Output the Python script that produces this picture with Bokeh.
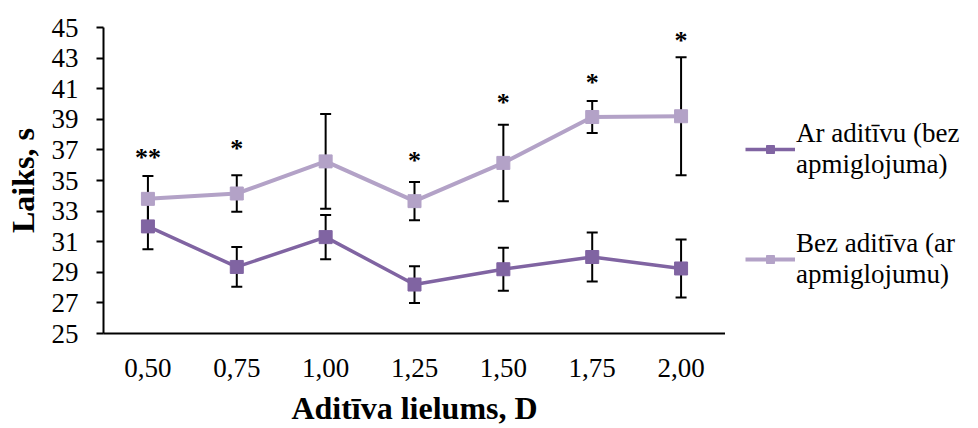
from bokeh.plotting import figure
from bokeh.layouts import row
from bokeh.models import (ColumnDataSource, Whisker, TeeHead, Legend, LegendItem,
                          FactorRange, Range1d, FixedTicker)
from bokeh.core.properties import value
from bokeh.embed import file_html
from bokeh.resources import INLINE

categories = ["0,50", "0,75", "1,00", "1,25", "1,50", "1,75", "2,00"]
ar_mean = [32.0, 29.35, 31.3, 28.2, 29.2, 30.0, 29.25]
ar_err = [1.5, 1.3, 1.45, 1.2, 1.4, 1.6, 1.9]
bez_mean = [33.8, 34.15, 36.25, 33.65, 36.15, 39.15, 39.2]
bez_err = [1.5, 1.2, 3.1, 1.25, 2.5, 1.05, 3.85]
stars = ["**", "*", "", "*", "*", "*", "*"]
star_y = [36.75, 37.35, float("nan"), 36.55, 40.35, 41.65, 44.4]
y_ticks = [25, 27, 29, 31, 33, 35, 37, 39, 41, 43, 45]

label_ar = "Ar aditīvu (bez\napmiglojuma)"
label_bez = "Bez aditīva (ar\napmiglojumu)"

DARK = "#8064A2"
LIGHT = "#B3A2C7"
FONT = "Liberation Serif"

src_ar = ColumnDataSource(dict(
    x=categories, y=ar_mean,
    upper=[m + e for m, e in zip(ar_mean, ar_err)],
    lower=[m - e for m, e in zip(ar_mean, ar_err)],
))
src_bez = ColumnDataSource(dict(
    x=categories, y=bez_mean,
    upper=[m + e for m, e in zip(bez_mean, bez_err)],
    lower=[m - e for m, e in zip(bez_mean, bez_err)],
    star=stars, star_y=star_y,
))

p = figure(width=725, height=428, output_backend="svg", toolbar_location=None,
           x_range=FactorRange(factors=categories, range_padding=0),
           y_range=Range1d(25, 45),
           min_border_left=103, min_border_top=27, min_border_bottom=95,
           min_border_right=0)
p.outline_line_color = None
p.grid.visible = False
p.background_fill_color = "white"

for src in (src_ar, src_bez):
    w = Whisker(source=src, base="x", upper="upper", lower="lower",
                line_color="black", line_width=2,
                upper_head=TeeHead(size=11, line_color="black", line_width=2),
                lower_head=TeeHead(size=11, line_color="black", line_width=2))
    p.add_layout(w)

l1 = p.line("x", "y", source=src_ar, line_color=DARK, line_width=3.5)
s1 = p.scatter("x", "y", source=src_ar, marker="square", size=13,
               fill_color=DARK, line_color=DARK)
l2 = p.line("x", "y", source=src_bez, line_color=LIGHT, line_width=4)
s2 = p.scatter("x", "y", source=src_bez, marker="square", size=13,
               fill_color=LIGHT, line_color=LIGHT)

p.text("x", "star_y", text="star", source=src_bez, text_align="center",
       text_baseline="middle", y_offset=4, text_font=value(FONT),
       text_font_size="26px", text_font_style="bold", text_color="black")

p.yaxis.ticker = FixedTicker(ticks=y_ticks)
p.yaxis.minor_tick_line_color = None
p.yaxis.major_tick_in = 0
p.yaxis.major_tick_out = 7
p.yaxis.major_tick_line_width = 2
p.yaxis.major_label_standoff = 18
p.yaxis.axis_label = "Laiks, s"
p.yaxis.axis_label_standoff = 8

p.xaxis.major_tick_line_color = None
p.xaxis.minor_tick_line_color = None
p.xaxis.major_label_standoff = 19
p.xaxis.axis_label = "Aditīva lielums, D"
p.xaxis.axis_label_standoff = 10

for ax in (p.xaxis, p.yaxis):
    ax.axis_line_width = 2
    ax.axis_line_color = "black"
    ax.major_label_text_font = FONT
    ax.major_label_text_font_size = "27px"
    ax.major_label_text_color = "black"
    ax.axis_label_text_font = FONT
    ax.axis_label_text_font_size = "32px"
    ax.axis_label_text_font_style = "bold"
    ax.axis_label_text_color = "black"

# legend panel
p2 = figure(width=253, height=428, output_backend="svg", toolbar_location=None,
            x_range=Range1d(0, 1), y_range=Range1d(0, 1), min_border=0)
p2.axis.visible = False
p2.grid.visible = False
p2.outline_line_color = None
d1 = p2.line(x=[-10, -9], y=[-10, -9], line_color=DARK, line_width=3.5)
d1s = p2.scatter(x=[-10], y=[-10], marker="square", size=11, fill_color=DARK, line_color=DARK)
d2 = p2.line(x=[-10, -9], y=[-10, -9], line_color=LIGHT, line_width=4)
d2s = p2.scatter(x=[-10], y=[-10], marker="square", size=11, fill_color=LIGHT, line_color=LIGHT)

legend = Legend(items=[LegendItem(label=label_ar, renderers=[d1, d1s]),
                       LegendItem(label=label_bez, renderers=[d2, d2s])],
                location=(20, 43))
legend.label_text_font = FONT
legend.label_text_font_size = "27px"
legend.label_text_line_height = 1.26
legend.label_text_color = "black"
legend.glyph_width = 50
legend.label_standoff = 1
legend.spacing = 48
legend.border_line_color = None
legend.background_fill_alpha = 0
legend.padding = 0
legend.margin = 0
p2.add_layout(legend)

layout = row(p, p2, spacing=0)
open("out.html", "w").write(file_html(layout, INLINE))
